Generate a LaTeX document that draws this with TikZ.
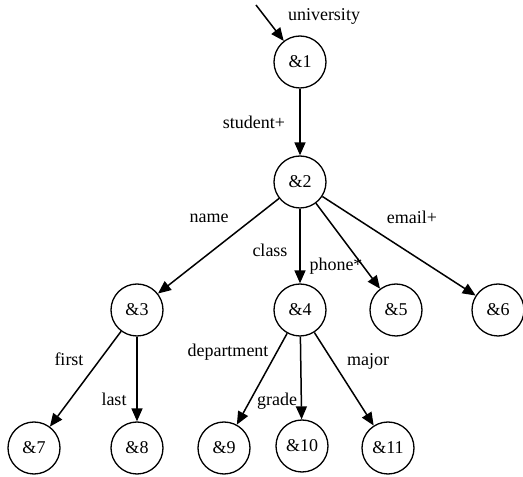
\documentclass[tikz,border=0pt]{standalone}
\usepackage{fontspec}
\setmainfont{Liberation Serif}
\usetikzlibrary{arrows.meta}
\begin{document}
\begin{tikzpicture}[x=1pt,y=1pt,
  obj/.style={circle,draw,line width=1.3pt,minimum size=52pt,inner sep=0pt,font=\fontsize{18}{20}\selectfont},
  lbl/.style={inner sep=0pt,font=\fontsize{18}{20}\selectfont},
  edge/.style={line width=1.5pt,-{Triangle[length=13pt,width=11pt]}}]
\useasboundingbox (0,0) rectangle (523,477);
% object nodes
\node[obj] (n1) at (300,415) {\&1};
\node[obj] (n2) at (300,295) {\&2};
\node[obj] (n3) at (137,167) {\&3};
\node[obj] (n4) at (300,167) {\&4};
\node[obj] (n5) at (396,167) {\&5};
\node[obj] (n6) at (498,167) {\&6};
\node[obj] (n7) at (34,29) {\&7};
\node[obj] (n8) at (137,29) {\&8};
\node[obj] (n9) at (224,29) {\&9};
\node[obj] (n10) at (302,31) {\&10};
\node[obj] (n11) at (388,29) {\&11};
\coordinate (root) at (256,472);
% edges
\draw[edge] (root) -- (n1);
\draw[edge] (n1) -- (n2);
\draw[edge] (n2) -- (n3);
\draw[edge] (n2) -- (n4);
\draw[edge] (n2) -- (n5);
\draw[edge] (n2) -- (n6);
\draw[edge] (n3) -- (n7);
\draw[edge] (n3) -- (n8);
\draw[edge] (n4) -- (n9);
\draw[edge] (n4) -- (n10);
\draw[edge] (n4) -- (n11);
% edge labels
\node[lbl] (l1) at (324,461) {university};
\node[lbl] (l2) at (254,355) {student+};
\node[lbl] (l3) at (209,259) {name};
\node[lbl] (l4) at (270,227) {class};
\node[lbl] (l5) at (336,211) {phone*};
\node[lbl] (l6) at (412,260) {email+};
\node[lbl] (l7) at (69,118) {first};
\node[lbl] (l8) at (114,78) {last};
\node[lbl] (l9) at (228,125) {department};
\node[lbl] (l10) at (277,76) {grade};
\node[lbl] (l11) at (368,116) {major};
\end{tikzpicture}
\end{document}
